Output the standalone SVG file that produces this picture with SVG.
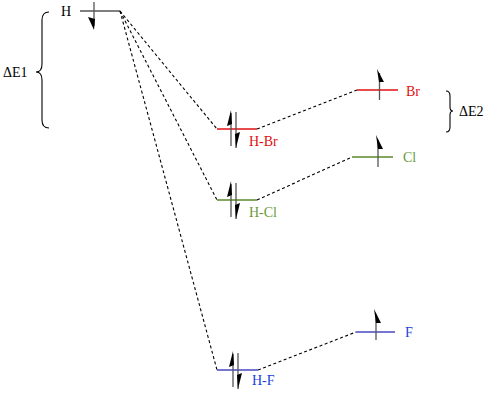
<svg xmlns="http://www.w3.org/2000/svg" width="489" height="395" viewBox="0 0 489 395">
<style>
text{font-family:"Liberation Serif","DejaVu Serif",serif;font-size:14px}
.lv{stroke-width:1.3;fill:none}
.sp{stroke:#555;stroke-width:1.3}
.hd{fill:#000}
.dash{stroke:#000;stroke-width:1.1;stroke-dasharray:3,2.5;fill:none}
.br{stroke:#000;stroke-width:1.1;fill:none}
.red{stroke:#e01010}.redt{fill:#e01010}
.grn{stroke:#5a8a2a}.grnt{fill:#6a9a3a}
.blu{stroke:#4848c0}.blut{fill:#2040e0}
</style>
<rect width="489" height="395" fill="#fff"/>
<g id="connectors">
<path class="dash" d="M120,11 L217,129"/>
<path class="dash" d="M120,11 L217,200"/>
<path class="dash" d="M120,11 L217,370"/>
<path class="dash" d="M257,129 L357,90"/>
<path class="dash" d="M257,200 L352,157"/>
<path class="dash" d="M258,370 L356,332"/>
</g>
<g id="H">
<text x="61" y="16">H</text>
<line x1="80" y1="11" x2="120" y2="11" stroke="#000" stroke-width="1.1"/>
<line class="sp" x1="94" y1="2" x2="94" y2="26"/>
<polygon class="hd" points="88,17 95,19 94,30"/>
</g>
<g id="dE1">
<path class="br" d="M49,12 Q42,12 42,20 L42,64 Q42,72 36,72 Q42,72 42,80 L42,120 Q42,128 49,128"/>
<text x="3" y="77">ΔE1</text>
</g>
<g id="HBr">
<line class="lv red" x1="217" y1="129" x2="257" y2="129"/>
<line class="sp" x1="231" y1="113" x2="231" y2="146"/>
<polygon class="hd" points="231,110 232,124 227,126"/>
<line class="sp" x1="236" y1="112" x2="236" y2="148"/>
<polygon class="hd" points="236,148 235,134 240,132"/>
<text class="redt" x="249" y="146">H-Br</text>
</g>
<g id="HCl">
<line class="lv grn" x1="217" y1="200" x2="257" y2="200"/>
<line class="sp" x1="231" y1="184" x2="231" y2="217"/>
<polygon class="hd" points="231,181 232,195 227,197"/>
<line class="sp" x1="236" y1="183" x2="236" y2="219"/>
<polygon class="hd" points="236,219 235,205 240,203"/>
<text class="grnt" x="249" y="217">H-Cl</text>
</g>
<g id="HF">
<line class="lv blu" x1="217" y1="370" x2="258" y2="370"/>
<line class="sp" x1="233" y1="354" x2="233" y2="387"/>
<polygon class="hd" points="233,351 234,365 229,367"/>
<line class="sp" x1="238" y1="353" x2="238" y2="389"/>
<polygon class="hd" points="238,389 237,375 242,373"/>
<text class="blut" x="252" y="385">H-F</text>
</g>
<g id="Br">
<line class="lv red" x1="357" y1="90" x2="398" y2="90"/>
<line class="sp" x1="379.5" y1="73" x2="379.5" y2="100"/>
<polygon class="hd" points="377,69 384,82 379,82"/>
<text class="redt" x="406" y="96">Br</text>
</g>
<g id="dE2">
<path class="br" d="M446,91 Q450,91 450,96 L450,107 Q450,111 453,111 Q450,111 450,115 L450,127 Q450,132 446,132"/>
<text x="459" y="116">ΔE2</text>
</g>
<g id="Cl">
<line class="lv grn" x1="352" y1="157" x2="393" y2="157"/>
<line class="sp" x1="378" y1="140" x2="378" y2="167"/>
<polygon class="hd" points="376,135 383,149 378,149"/>
<text class="grnt" x="403" y="162">Cl</text>
</g>
<g id="F">
<line class="lv blu" x1="356" y1="332" x2="395" y2="332"/>
<line class="sp" x1="376" y1="314" x2="376" y2="340"/>
<polygon class="hd" points="374,309 381,323 376,323"/>
<text class="blut" x="405" y="337">F</text>
</g>
</svg>
